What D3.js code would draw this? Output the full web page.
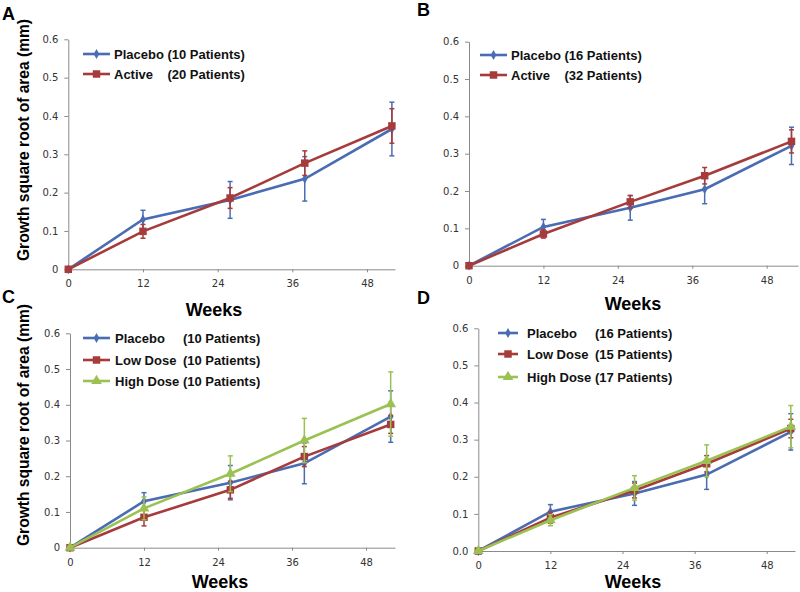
<!DOCTYPE html>
<meta charset="utf-8">
<script src="https://d3js.org/d3.v7.min.js"></script>
<style>
  body { margin: 0; background: #fff; }
  text { font-family: "Liberation Sans", Arial, sans-serif; }
  .tick text { font-family: "DejaVu Sans", sans-serif; font-size: 10px; fill: #333; }
</style>
<div id="chart"></div>
<script>

// weeks of follow-up (x values of every series)
var weeks = [0, 12, 26, 38, 52];
var xTicks = [0, 12, 24, 36, 48];
var yTicks = [0, 0.1, 0.2, 0.3, 0.4, 0.5, 0.6];

// panel A
var placeboA = [0, 0.130, 0.181, 0.236, 0.366];
var placeboAErr = [0, 0.024, 0.048, 0.058, 0.070];
var activeA = [0, 0.099, 0.186, 0.277, 0.374];
var activeAErr = [0, 0.018, 0.027, 0.032, 0.045];

// panel B
var placeboB = [0, 0.104, 0.155, 0.205, 0.321];
var placeboBErr = [0, 0.020, 0.033, 0.039, 0.050];
var activeB = [0, 0.085, 0.171, 0.241, 0.333];
var activeBErr = [0, 0.011, 0.017, 0.022, 0.031];

// panel C
var placeboC = [0, 0.130, 0.182, 0.236, 0.367];
var placeboCErr = [0, 0.024, 0.048, 0.057, 0.072];
var lowC = [0, 0.085, 0.162, 0.255, 0.345];
var lowCErr = [0, 0.024, 0.024, 0.028, 0.025];
var highC = [0, 0.110, 0.207, 0.300, 0.402];
var highCErr = [0, 0.032, 0.050, 0.062, 0.090];

// panel D
var placeboD = [0, 0.106, 0.155, 0.206, 0.321];
var placeboDErr = [0, 0.019, 0.032, 0.040, 0.049];
var lowD = [0, 0.090, 0.163, 0.235, 0.330];
var lowDErr = [0, 0.015, 0.020, 0.022, 0.025];
var highD = [0, 0.083, 0.170, 0.243, 0.335];
var highDErr = [0, 0.015, 0.033, 0.043, 0.057];

// legend labels
var namesAB = ["Placebo", "Active"];
var countsA = ["(10 Patients)", "(20 Patients)"];
var countsB = ["(16 Patients)", "(32 Patients)"];
var namesCD = ["Placebo", "Low Dose", "High Dose"];
var countsC = ["(10 Patients)", "(10 Patients)", "(10 Patients)"];
var countsD = ["(16 Patients)", "(15 Patients)", "(17 Patients)"];

var blue = "#4a6cb3", red = "#a63b3b", green = "#9bc153";

var panels = [
  { letter: "A", lx: 2, ly: 20, left: 68.3, right: 395, xMax: 52.5, bottom: 269.3, top: 39.3,
    ylabel: true, yLabelCy: 140, weeksX: 214, weeksY: 316, fmt: "short",
    legend: { x1: 83, x2: 110, tx: 114, ys: [54, 74] },
    series: [
      { name: namesAB[0], count: countsA[0], v: placeboA, e: placeboAErr, color: blue, sym: "diamond" },
      { name: namesAB[1], count: countsA[1], v: activeA, e: activeAErr, color: red, sym: "square" }] },
  { letter: "B", lx: 417, ly: 16, left: 469, right: 798, xMax: 53.05, bottom: 265.7, top: 41.7,
    ylabel: false, weeksX: 633, weeksY: 310, fmt: "short",
    legend: { x1: 480, x2: 507, tx: 511, ys: [55, 75] },
    series: [
      { name: namesAB[0], count: countsB[0], v: placeboB, e: placeboBErr, color: blue, sym: "diamond" },
      { name: namesAB[1], count: countsB[1], v: activeB, e: activeBErr, color: red, sym: "square" }] },
  { letter: "C", lx: 2, ly: 303, left: 70, right: 395, xMax: 52.7, bottom: 547.7, top: 333.3,
    ylabel: true, yLabelCy: 425, weeksX: 220, weeksY: 588, fmt: "short",
    legend: { x1: 83, x2: 110, tx: 115, ys: [338, 360, 381] },
    series: [
      { name: namesCD[0], count: countsC[0], v: placeboC, e: placeboCErr, color: blue, sym: "diamond" },
      { name: namesCD[1], count: countsC[1], v: lowC, e: lowCErr, color: red, sym: "square" },
      { name: namesCD[2], count: countsC[2], v: highC, e: highCErr, color: green, sym: "triangle" }] },
  { letter: "D", lx: 417, ly: 304, left: 478.3, right: 795, xMax: 52.7, bottom: 551, top: 328.3,
    ylabel: false, weeksX: 633, weeksY: 588, fmt: "fixed",
    legend: { x1: 498, x2: 518, tx: 527, ys: [333, 354, 377] },
    series: [
      { name: namesCD[0], count: countsD[0], v: placeboD, e: placeboDErr, color: blue, sym: "diamond" },
      { name: namesCD[1], count: countsD[1], v: lowD, e: lowDErr, color: red, sym: "square" },
      { name: namesCD[2], count: countsD[2], v: highD, e: highDErr, color: green, sym: "triangle" }] }
];

var symbols = {
  diamond: d3.symbol().type(d3.symbolDiamond).size(28),
  square: d3.symbol().type(d3.symbolSquare).size(56),
  triangle: d3.symbol().type(d3.symbolTriangle).size(50)
};

var svg = d3.select("#chart").append("svg")
  .attr("width", 800).attr("height", 592);

panels.forEach(function (p) {
  var g = svg.append("g");

  var x = d3.scaleLinear().domain([0, p.xMax]).range([p.left, p.right]);
  var y = d3.scaleLinear().domain([0, 0.6]).range([p.bottom, p.top]);

  var fmt = p.fmt == "fixed" ? d3.format(".1f") : function (d) { return d === 0 ? "0" : d3.format(".1f")(d); };

  // axes
  var ya = g.append("g")
    .attr("transform", "translate(" + p.left + ",0)")
    .call(d3.axisLeft(y).tickValues(yTicks).tickFormat(fmt).tickSize(4).tickSizeOuter(0).tickPadding(6));
  var xa = g.append("g")
    .attr("transform", "translate(0," + p.bottom + ")")
    .call(d3.axisBottom(x).tickValues(xTicks).tickSize(3).tickSizeOuter(0).tickPadding(8));
  [ya, xa].forEach(function (a) {
    a.select(".domain").attr("stroke", "#8a8a8a");
    a.selectAll(".tick line").attr("stroke", "#8a8a8a");
  });

  // series
  p.series.forEach(function (s) {
    var pts = weeks.map(function (w, i) { return { w: w, v: s.v[i], e: s.e[i] }; });
    g.append("path").datum(pts)
      .attr("fill", "none").attr("stroke", s.color).attr("stroke-width", 2.6)
      .attr("d", d3.line().x(function (d) { return x(d.w); }).y(function (d) { return y(d.v); }));

    var eb = g.append("g").attr("stroke", s.color).attr("stroke-width", 1.5);
    pts.filter(function (d) { return d.e > 0; }).forEach(function (d) {
      var cx = x(d.w), y1 = y(d.v + d.e), y2 = y(d.v - d.e);
      eb.append("line").attr("x1", cx).attr("x2", cx).attr("y1", y1).attr("y2", y2);
      eb.append("line").attr("x1", cx - 2.5).attr("x2", cx + 2.5).attr("y1", y1).attr("y2", y1);
      eb.append("line").attr("x1", cx - 2.5).attr("x2", cx + 2.5).attr("y1", y2).attr("y2", y2);
    });

    g.append("g").selectAll("path").data(pts).enter().append("path")
      .attr("d", symbols[s.sym])
      .attr("transform", function (d) { return "translate(" + x(d.w) + "," + y(d.v) + ")"; })
      .attr("fill", s.color);
  });

  // legend
  var lg = g.append("g");
  var nameW = 0;
  p.series.forEach(function (s, i) {
    var ly = p.legend.ys[i];
    lg.append("line").attr("x1", p.legend.x1).attr("x2", p.legend.x2).attr("y1", ly).attr("y2", ly)
      .attr("stroke", s.color).attr("stroke-width", 2.6);
    lg.append("path").attr("d", symbols[s.sym])
      .attr("transform", "translate(" + (p.legend.x1 + p.legend.x2) / 2 + "," + ly + ")")
      .attr("fill", s.color);
    var t = lg.append("text").attr("x", p.legend.tx).attr("y", ly).attr("dy", "0.36em")
      .style("font-size", "13px").style("font-weight", "bold").attr("fill", "#111")
      .text(s.name + "\u00a0");
    nameW = Math.max(nameW, t.node().getComputedTextLength());
  });
  p.series.forEach(function (s, i) {
    lg.append("text").attr("x", p.legend.tx + nameW).attr("y", p.legend.ys[i]).attr("dy", "0.36em")
      .style("font-size", "13px").style("font-weight", "bold").attr("fill", "#111")
      .text(s.count);
  });

  // titles
  g.append("text").attr("x", p.lx).attr("y", p.ly)
    .style("font-size", "18px").style("font-weight", "bold").attr("fill", "#000").text(p.letter);
  g.append("text").attr("x", p.weeksX).attr("y", p.weeksY).attr("text-anchor", "middle")
    .style("font-size", "18px").style("font-weight", "bold").attr("fill", "#000").text("Weeks");
  if (p.ylabel) {
    g.append("text")
      .attr("transform", "translate(29," + p.yLabelCy + ") rotate(-90)")
      .attr("text-anchor", "middle")
      .attr("textLength", 242).attr("lengthAdjust", "spacingAndGlyphs")
      .style("font-size", "16px").style("font-weight", "bold").attr("fill", "#000")
      .text("Growth square root of area (mm)");
  }
});

</script>
